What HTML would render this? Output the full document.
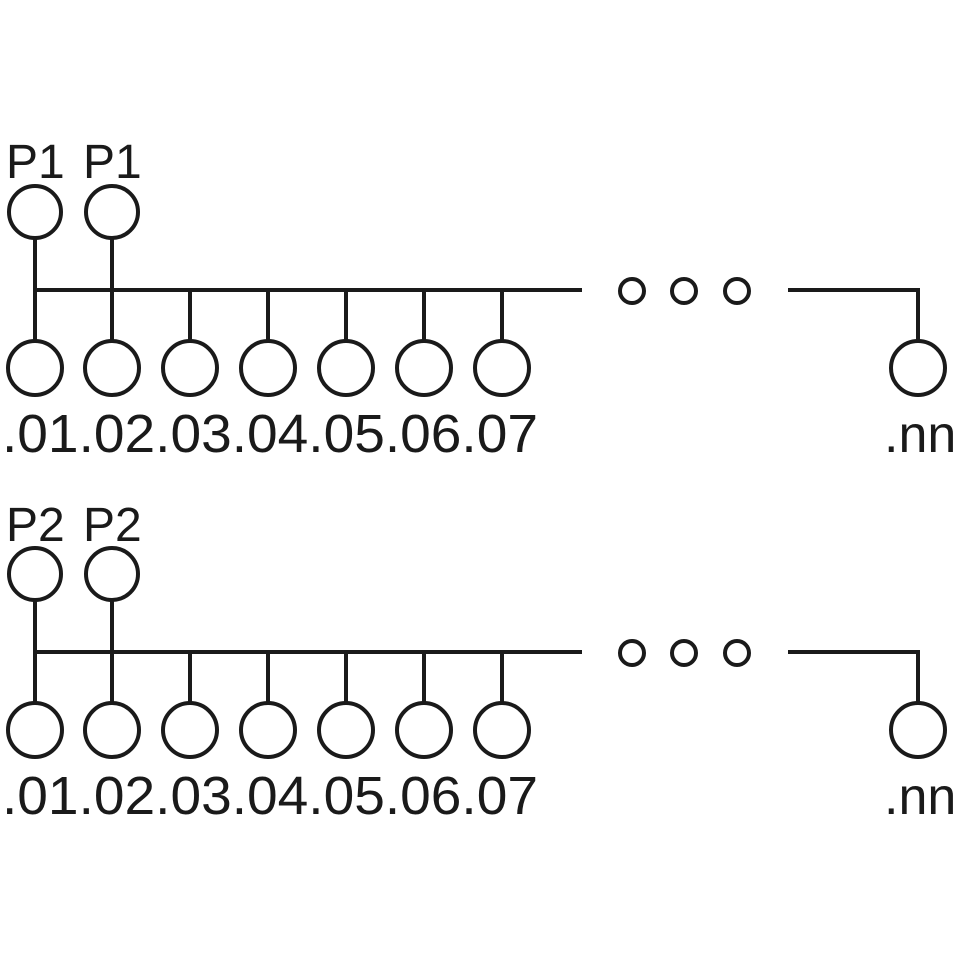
<!DOCTYPE html>
<html><head><meta charset="utf-8"><style>html,body{margin:0;padding:0;background:#fff}svg{display:block}</style></head>
<body>
<svg width="959" height="959" viewBox="0 0 959 959" xmlns="http://www.w3.org/2000/svg">
<defs>
<g id="grp" fill="none" stroke="#1a1a1a" stroke-width="4">
  <circle cx="35" cy="212" r="26"/>
  <circle cx="112" cy="212" r="26"/>
  <line x1="35" y1="238" x2="35" y2="341"/>
  <line x1="112" y1="238" x2="112" y2="341"/>
  <line x1="33" y1="290" x2="582" y2="290"/>
  <line x1="190" y1="290" x2="190" y2="341"/>
  <line x1="268" y1="290" x2="268" y2="341"/>
  <line x1="346" y1="290" x2="346" y2="341"/>
  <line x1="424" y1="290" x2="424" y2="341"/>
  <line x1="502" y1="290" x2="502" y2="341"/>
  <circle cx="35" cy="368" r="27"/>
  <circle cx="112" cy="368" r="27"/>
  <circle cx="190" cy="368" r="27"/>
  <circle cx="268" cy="368" r="27"/>
  <circle cx="346" cy="368" r="27"/>
  <circle cx="424" cy="368" r="27"/>
  <circle cx="502" cy="368" r="27"/>
  <circle cx="632" cy="291" r="12"/>
  <circle cx="684" cy="291" r="12"/>
  <circle cx="737" cy="291" r="12"/>
  <polyline points="788,290 918,290 918,341"/>
  <circle cx="918" cy="368" r="27"/>
</g>
</defs>
<use href="#grp"/>
<use href="#grp" transform="translate(0,362)"/>
<g font-family="Liberation Sans, sans-serif" fill="#1a1a1a">
  <text x="6" y="178" font-size="48">P1</text>
  <text x="83" y="178" font-size="48">P1</text>
  <text x="2" y="452" font-size="54" textLength="536" lengthAdjust="spacingAndGlyphs">.01.02.03.04.05.06.07</text>
  <text x="884" y="452" font-size="52">.nn</text>
  <text x="6" y="541" font-size="48">P2</text>
  <text x="83" y="541" font-size="48">P2</text>
  <text x="2" y="814" font-size="54" textLength="536" lengthAdjust="spacingAndGlyphs">.01.02.03.04.05.06.07</text>
  <text x="884" y="814" font-size="52">.nn</text>
</g>
</svg>
</body></html>
